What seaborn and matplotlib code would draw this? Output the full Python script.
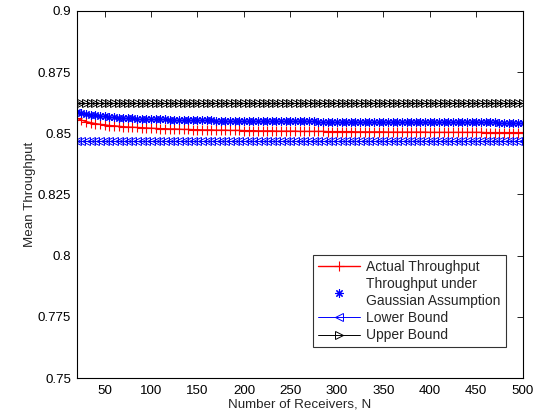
import matplotlib
matplotlib.use("Agg")
import matplotlib.pyplot as plt
import seaborn as sns
import pandas as pd

# ---------------- data ----------------
receivers = list(range(20, 501, 5))

actual = [
    0.8562, 0.8554, 0.8548, 0.8544, 0.8540, 0.8537, 0.8535, 0.8532, 0.8531, 0.8529,
    0.8527, 0.8526, 0.8525, 0.8524, 0.8523, 0.8522, 0.8521, 0.8520, 0.8519, 0.8519,
    0.8518, 0.8518, 0.8517, 0.8516, 0.8516, 0.8515, 0.8515, 0.8514, 0.8514, 0.8514,
    0.8513, 0.8513, 0.8513, 0.8512, 0.8512, 0.8512, 0.8511, 0.8511, 0.8511, 0.8510,
    0.8510, 0.8510, 0.8510, 0.8509, 0.8509, 0.8509, 0.8509, 0.8509, 0.8508, 0.8508,
    0.8508, 0.8508, 0.8508, 0.8508, 0.8507, 0.8507, 0.8507, 0.8507, 0.8507, 0.8507,
    0.8506, 0.8506, 0.8506, 0.8506, 0.8506, 0.8506, 0.8506, 0.8505, 0.8505, 0.8505,
    0.8505, 0.8505, 0.8505, 0.8505, 0.8505, 0.8505, 0.8504, 0.8504, 0.8504, 0.8504,
    0.8504, 0.8504, 0.8504, 0.8504, 0.8504, 0.8504, 0.8504, 0.8504, 0.8503, 0.8503,
    0.8503, 0.8503, 0.8503, 0.8503, 0.8503, 0.8503, 0.8503,
]

gaussian = [
    0.8589, 0.8583, 0.8579, 0.8576, 0.8573, 0.8571, 0.8569, 0.8567, 0.8566, 0.8564,
    0.8563, 0.8562, 0.8561, 0.8560, 0.8560, 0.8559, 0.8558, 0.8558, 0.8557, 0.8557,
    0.8556, 0.8556, 0.8555, 0.8555, 0.8554, 0.8554, 0.8554, 0.8553, 0.8553, 0.8553,
    0.8552, 0.8552, 0.8552, 0.8552, 0.8551, 0.8551, 0.8551, 0.8551, 0.8550, 0.8550,
    0.8550, 0.8550, 0.8550, 0.8550, 0.8549, 0.8549, 0.8549, 0.8549, 0.8549, 0.8549,
    0.8549, 0.8549, 0.8548, 0.8548, 0.8548, 0.8548, 0.8548, 0.8548, 0.8548, 0.8548,
    0.8548, 0.8547, 0.8547, 0.8547, 0.8547, 0.8547, 0.8547, 0.8547, 0.8547, 0.8547,
    0.8547, 0.8547, 0.8546, 0.8546, 0.8546, 0.8546, 0.8546, 0.8546, 0.8546, 0.8546,
    0.8546, 0.8546, 0.8545, 0.8545, 0.8545, 0.8545, 0.8545, 0.8545, 0.8545, 0.8545,
    0.8545, 0.8544, 0.8544, 0.8544, 0.8544, 0.8544, 0.8544,
]

lower_bound = [0.8468] * 97
upper_bound = [0.8622] * 97

x_ticks = [50, 100, 150, 200, 250, 300, 350, 400, 450, 500]
y_ticks = [0.75, 0.775, 0.8, 0.825, 0.85, 0.875, 0.9]
y_tick_labels = ["0.75", "0.775", "0.8", "0.825", "0.85", "0.875", "0.9"]

labels = ["Actual Throughput", "Throughput under\nGaussian Assumption",
          "Lower Bound", "Upper Bound"]

# ---------------- style ----------------
sns.set_style("white")
plt.rcParams["font.family"] = ["Liberation Sans", "DejaVu Sans"]
plt.rcParams["xtick.direction"] = "in"
plt.rcParams["ytick.direction"] = "in"

df = pd.DataFrame({"N": receivers, "actual": actual, "gauss": gaussian,
                   "lower": lower_bound, "upper": upper_bound})

fig = plt.figure(figsize=(5.46, 4.19), dpi=100)
ax = fig.add_axes([76.7 / 546, 1 - 378 / 419, (522.7 - 76.7) / 546, (378 - 11) / 419])

RED, BLUE, BLACK = "#ff0000", "#0000ff", "#000000"

sns.lineplot(data=df, x="N", y="actual", ax=ax, color=RED, lw=1.0,
             marker="+", markersize=7, markeredgewidth=0.8,
             markeredgecolor=RED, label=labels[0])
sns.lineplot(data=df, x="N", y="gauss", ax=ax, color=BLUE, lw=0,
             linestyle="none", marker=(8, 2, 0), markersize=6,
             markeredgewidth=0.8, markeredgecolor=BLUE, label=labels[1])
sns.lineplot(data=df, x="N", y="lower", ax=ax, color=BLUE, lw=0.7,
             marker="<", markersize=6, markerfacecolor="none",
             markeredgecolor=BLUE, markeredgewidth=0.7, label=labels[2])
sns.lineplot(data=df, x="N", y="upper", ax=ax, color=BLACK, lw=0.7,
             marker=">", markersize=6, markerfacecolor="none",
             markeredgecolor=BLACK, markeredgewidth=0.7, label=labels[3])

FS = 9.6
ax.set_xlim(20, 500)
ax.set_ylim(0.75, 0.9)
ax.set_xticks(x_ticks)
ax.set_xticklabels([str(t) for t in x_ticks])
ax.set_yticks(y_ticks)
ax.set_yticklabels(y_tick_labels)
ax.tick_params(axis="both", which="both", labelsize=FS, length=4, width=0.6,
               top=True, right=True, colors="black")
ax.tick_params(axis="x", pad=5)
ax.tick_params(axis="y", pad=4)
for s in ax.spines.values():
    s.set_visible(True)
    s.set_color("black")
    s.set_linewidth(0.8)

ax.set_xlabel("Number of Receivers, N", fontsize=FS, labelpad=1)
ax.set_ylabel("Mean Throughput", fontsize=FS, labelpad=1)

leg = ax.legend(loc="upper left", bbox_to_anchor=(313 / 546, 1 - 255 / 419),
                bbox_transform=fig.transFigure, borderaxespad=0,
                fontsize=10, frameon=True, fancybox=False, numpoints=1,
                handlelength=3.0, handletextpad=0.5, labelspacing=0.25,
                borderpad=0.35)
leg.get_frame().set_edgecolor("black")
leg.get_frame().set_linewidth(0.8)

fig.savefig("out.png", dpi=100)
